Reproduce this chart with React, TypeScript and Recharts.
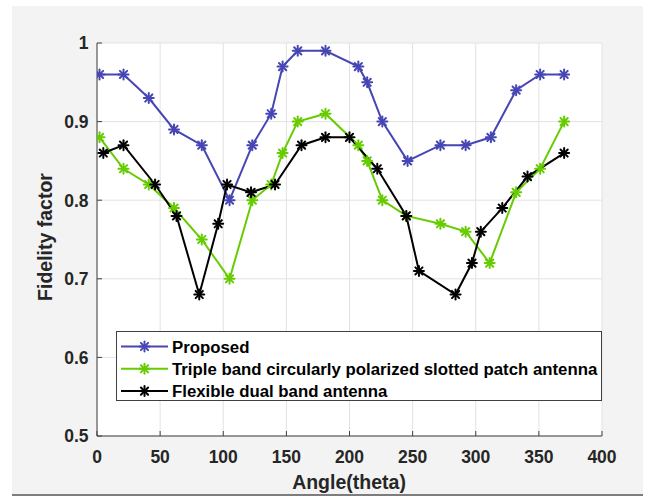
import React from 'react';
import { LineChart, Line, XAxis, YAxis, CartesianGrid, Legend } from 'recharts';

// Angle ticks and fidelity ticks
const angleTicks = [0, 50, 100, 150, 200, 250, 300, 350, 400];
const fidelityTicks = [0.5, 0.6, 0.7, 0.8, 0.9, 1];

// Proposed antenna
const proposedAngle = [2, 21, 41, 61, 83, 105, 123, 138, 147, 159, 181, 207, 214, 226, 246, 272, 292, 312, 332, 351, 370];
const proposedFidelity = [0.96, 0.96, 0.93, 0.89, 0.87, 0.8, 0.87, 0.91, 0.97, 0.99, 0.99, 0.97, 0.95, 0.9, 0.85, 0.87, 0.87, 0.88, 0.94, 0.96, 0.96];

// Triple band circularly polarized slotted patch antenna
const tripleAngle = [2, 21, 41, 61, 83, 105, 123, 138, 147, 159, 181, 207, 214, 226, 245, 272, 292, 311, 332, 351, 370];
const tripleFidelity = [0.88, 0.84, 0.82, 0.79, 0.75, 0.7, 0.8, 0.82, 0.86, 0.9, 0.91, 0.87, 0.85, 0.8, 0.78, 0.77, 0.76, 0.72, 0.81, 0.84, 0.9];

// Flexible dual band antenna
const flexibleAngle = [5, 21, 46, 63, 81, 96, 103, 122, 141, 162, 181, 200, 222, 245, 255, 284, 297, 304, 321, 341, 370];
const flexibleFidelity = [0.86, 0.87, 0.82, 0.78, 0.68, 0.77, 0.82, 0.81, 0.82, 0.87, 0.88, 0.88, 0.84, 0.78, 0.71, 0.68, 0.72, 0.76, 0.79, 0.83, 0.86];

const toPoints = (angles: number[], values: number[]) =>
  angles.map((angle, i) => ({ angle, fidelity: values[i] }));

const SERIES = [
  { name: 'Proposed', color: '#4646b4', data: toPoints(proposedAngle, proposedFidelity) },
  { name: 'Triple band circularly polarized slotted patch antenna', color: '#66cc00', data: toPoints(tripleAngle, tripleFidelity) },
  { name: 'Flexible dual band antenna', color: '#000000', data: toPoints(flexibleAngle, flexibleFidelity) },
];

const AXIS = '#404040';
const TEXT = '#262626';
const FONT = '"Liberation Sans", Arial, Helvetica, sans-serif';

// Eight-armed asterisk marker
function Star({ cx, cy, color }: { cx: number; cy: number; color: string }) {
  const r = 5;
  const d = r * 0.72;
  return (
    <g stroke={color} strokeWidth={2} strokeLinecap="round">
      <line x1={cx - r} y1={cy} x2={cx + r} y2={cy} />
      <line x1={cx} y1={cy - r} x2={cx} y2={cy + r} />
      <line x1={cx - d} y1={cy - d} x2={cx + d} y2={cy + d} />
      <line x1={cx - d} y1={cy + d} x2={cx + d} y2={cy - d} />
    </g>
  );
}

const starDot = (color: string) => (props: any) => {
  const { cx, cy, index } = props;
  if (cx == null || cy == null) return <g key={index} />;
  return <Star key={index} cx={cx} cy={cy} color={color} />;
};

function BottomTick({ x, y, payload }: any) {
  return (
    <g>
      <line x1={x} x2={x} y1={y} y2={y - 5} stroke={AXIS} />
      <text x={x} y={y + 21} dy="0.36em" textAnchor="middle" fontSize={17.5} fontWeight="bold" fill={TEXT} fontFamily={FONT}>
        {payload.value}
      </text>
    </g>
  );
}

function LeftTick({ x, y, payload }: any) {
  const v = payload.value as number;
  const label = v === 1 ? '1' : v.toFixed(1);
  return (
    <g>
      <line x1={x} x2={x + 5} y1={y} y2={y} stroke={AXIS} />
      <text x={x - 8.5} y={y} dy="0.36em" textAnchor="end" fontSize={17.5} fontWeight="bold" fill={TEXT} fontFamily={FONT}>
        {label}
      </text>
    </g>
  );
}

function TopTick({ x, y }: any) {
  return <line x1={x} x2={x} y1={y} y2={y + 5} stroke={AXIS} />;
}

function RightTick({ x, y }: any) {
  return <line x1={x} x2={x - 5} y1={y} y2={y} stroke={AXIS} />;
}

function LegendBox() {
  return (
    <svg width={487} height={71} style={{ display: 'block' }}>
      <rect x={0.5} y={0.5} width={485} height={69} fill="#ffffff" stroke={AXIS} />
      {SERIES.map((s, i) => {
        const cy = 15.5 + i * 22.3;
        return (
          <g key={s.name}>
            <line x1={5} x2={52} y1={cy} y2={cy} stroke={s.color} strokeWidth={2} />
            <Star cx={28.5} cy={cy} color={s.color} />
            <text x={56} y={cy} dy="0.36em" fontSize={16.8} fontWeight="bold" fill="#000" fontFamily={FONT}>
              {s.name}
            </text>
          </g>
        );
      })}
    </svg>
  );
}

export default function App() {
  return (
    <div style={{ position: 'absolute', left: 0, top: 0, width: 649, height: 496, background: '#ffffff', overflow: 'hidden' }}>
      <div
        style={{
          position: 'absolute',
          left: 12,
          top: 6,
          width: 631,
          height: 488,
          background: '#f3f3f3',
          borderBottom: '2px solid #7d7d7d',
        }}
      />
      <div style={{ position: 'absolute', left: 0, top: 0 }}>
        <LineChart width={649} height={496} margin={{ top: 43, right: 47, bottom: 0, left: 0 }}>
          <CartesianGrid stroke="#e2e2e2" fill="#ffffff" />
          <XAxis
            dataKey="angle"
            type="number"
            domain={[0, 400]}
            ticks={angleTicks}
            interval={0}
            allowDataOverflow
            height={60}
            tickSize={0}
            tickMargin={0}
            axisLine={{ stroke: AXIS }}
            tickLine={false}
            tick={<BottomTick />}
            label={{
              content: () => (
                <text x={349} y={482} dy="0.36em" textAnchor="middle" fontSize={19.5} fontWeight="bold" fill={TEXT} fontFamily={FONT}>
                  Angle(theta)
                </text>
              ),
            }}
          />
          <XAxis
            xAxisId="top"
            orientation="top"
            type="number"
            domain={[0, 400]}
            ticks={angleTicks}
            interval={0}
            allowDataOverflow
            height={0}
            tickSize={0}
            tickMargin={0}
            axisLine={{ stroke: AXIS }}
            tickLine={false}
            tick={<TopTick />}
          />
          <YAxis
            type="number"
            domain={[0.5, 1]}
            ticks={fidelityTicks}
            interval={0}
            allowDataOverflow
            width={97}
            tickSize={0}
            tickMargin={0}
            axisLine={{ stroke: AXIS }}
            tickLine={false}
            tick={<LeftTick />}
            label={{
              content: () => (
                <text
                  x={45}
                  y={237}
                  dy="0.36em"
                  textAnchor="middle"
                  transform="rotate(-90 45 237)"
                  fontSize={19.5}
                  fontWeight="bold"
                  fill={TEXT}
                  fontFamily={FONT}
                >
                  Fidelity factor
                </text>
              ),
            }}
          />
          <YAxis
            yAxisId="right"
            orientation="right"
            type="number"
            domain={[0.5, 1]}
            ticks={fidelityTicks}
            interval={0}
            allowDataOverflow
            width={0}
            tickSize={0}
            tickMargin={0}
            axisLine={{ stroke: AXIS }}
            tickLine={false}
            tick={<RightTick />}
          />
          {SERIES.map((s) => (
            <Line
              key={s.name}
              name={s.name}
              data={s.data}
              dataKey="fidelity"
              type="linear"
              stroke={s.color}
              strokeWidth={2}
              dot={starDot(s.color)}
              activeDot={false}
              isAnimationActive={false}
            />
          ))}
          <Legend
            layout="vertical"
            align="center"
            verticalAlign="middle"
            wrapperStyle={{ left: 116, top: 331, width: 487, height: 71 }}
            content={() => <LegendBox />}
          />
        </LineChart>
      </div>
    </div>
  );
}
